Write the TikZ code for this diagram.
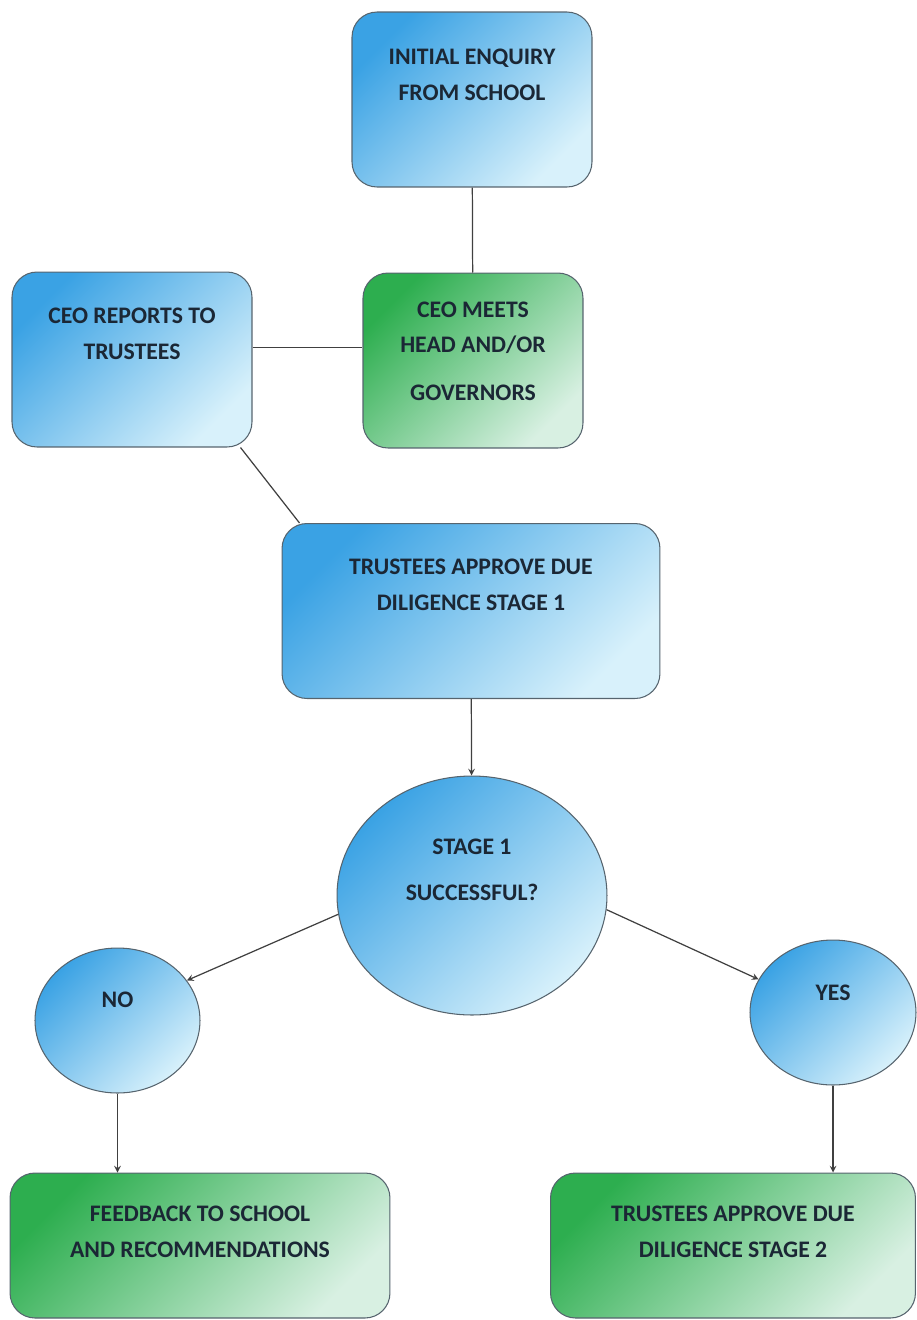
\documentclass[tikz,border=0pt]{standalone}
\usepackage{fontspec}
\setmainfont{Carlito}
\usetikzlibrary{shapes.geometric}
\definecolor{bluedark}{HTML}{3AA2E4}
\definecolor{bluelight}{HTML}{D8F1FB}
\definecolor{greendark}{HTML}{2DAE4F}
\definecolor{greenlight}{HTML}{D8F0E2}
\definecolor{edgegray}{HTML}{56646E}
\definecolor{inkdark}{HTML}{1B2735}
\begin{document}
\begin{tikzpicture}[x=0.02cm, y=-0.02cm,
		every node/.style={font=\fontsize{13.5}{20}\selectfont\bfseries, text=inkdark, align=center, inner sep=0pt},
		lift/.style 2 args={text height=#1, text depth=#2},
		bluebox/.style={draw=edgegray, line width=0.6pt, rounded corners=0.5cm, top color=bluedark, bottom color=bluelight, shading angle=45},
		greenbox/.style={draw=edgegray, line width=0.6pt, rounded corners=0.5cm, top color=greendark, bottom color=greenlight, shading angle=45},
		bluecircle/.style={ellipse, draw=edgegray, line width=0.6pt, top color=bluedark, bottom color=bluelight, shading angle=45},
		link/.style={draw=black!75, line width=0.7pt}]  % school conversion flow
	\useasboundingbox (0,0) rectangle (917,1320);
	\clip (0,0) rectangle (917,1320);
	\node[bluebox, minimum width=4.8cm, minimum height=3.5cm, lift={0.3cm}{0.28cm}] (enquiry) at (472,99.5) {INITIAL ENQUIRY\\FROM SCHOOL};
	\node[bluebox, minimum width=4.8cm, minimum height=3.5cm, lift={0.3cm}{0.32cm}] (reports) at (132,359.5) {CEO REPORTS TO\\TRUSTEES};
	\node[greenbox, minimum width=4.4cm, minimum height=3.5cm, lift={1.7cm}{0.12cm}] (meets) at (473,360.5) {CEO MEETS\\HEAD AND/OR\\[7pt]GOVERNORS};
	\node[bluebox, minimum width=7.56cm, minimum height=3.5cm, lift={0.3cm}{0.34cm}] (stageone) at (471,611) {TRUSTEES APPROVE DUE\\DILIGENCE STAGE 1};
	\node[bluecircle, minimum width=5.4cm, minimum height=4.78cm, lift={0.3cm}{0.12cm}] (success) at (472,895.5) {STAGE 1\\[6pt]SUCCESSFUL?};
	\node[bluecircle, minimum width=3.3cm, minimum height=2.9cm, lift={0.3cm}{0.84cm}] (no) at (117.5,1020.5) {NO};
	\node[bluecircle, minimum width=3.32cm, minimum height=2.9cm, lift={0.3cm}{0.8cm}] (yes) at (833,1012.5) {YES};
	\node[greenbox, minimum width=7.6cm, minimum height=2.9cm, lift={0.6cm}{0.14cm}] (feedback) at (200,1245.5) {FEEDBACK TO SCHOOL\\AND RECOMMENDATIONS};
	\node[greenbox, minimum width=7.3cm, minimum height=2.9cm, lift={0.6cm}{0.14cm}] (stagetwo) at (733,1245.5) {TRUSTEES APPROVE DUE\\DILIGENCE STAGE 2};
	% plain links
	\draw[link] (enquiry) -- (meets);
	\draw[link] ([yshift=0.24cm]reports.east) -- ([yshift=0.24cm]reports.east -| meets.west);
	\draw[link] ([xshift=-0.24cm]reports.south east) -- ([xshift=0.36cm]stageone.north west);
	% arrows
	\draw[link, -stealth] (stageone) -- (success);
	\draw[link, -stealth] (success.188) -- (no.30);
	\draw[link, -stealth] (success.-6) -- (yes.156);
	\draw[link, -stealth] (no.south) -- (no.south |- feedback.north);
	\draw[link, -stealth] (yes.south) -- (yes.south |- stagetwo.north);
\end{tikzpicture}
\end{document}
